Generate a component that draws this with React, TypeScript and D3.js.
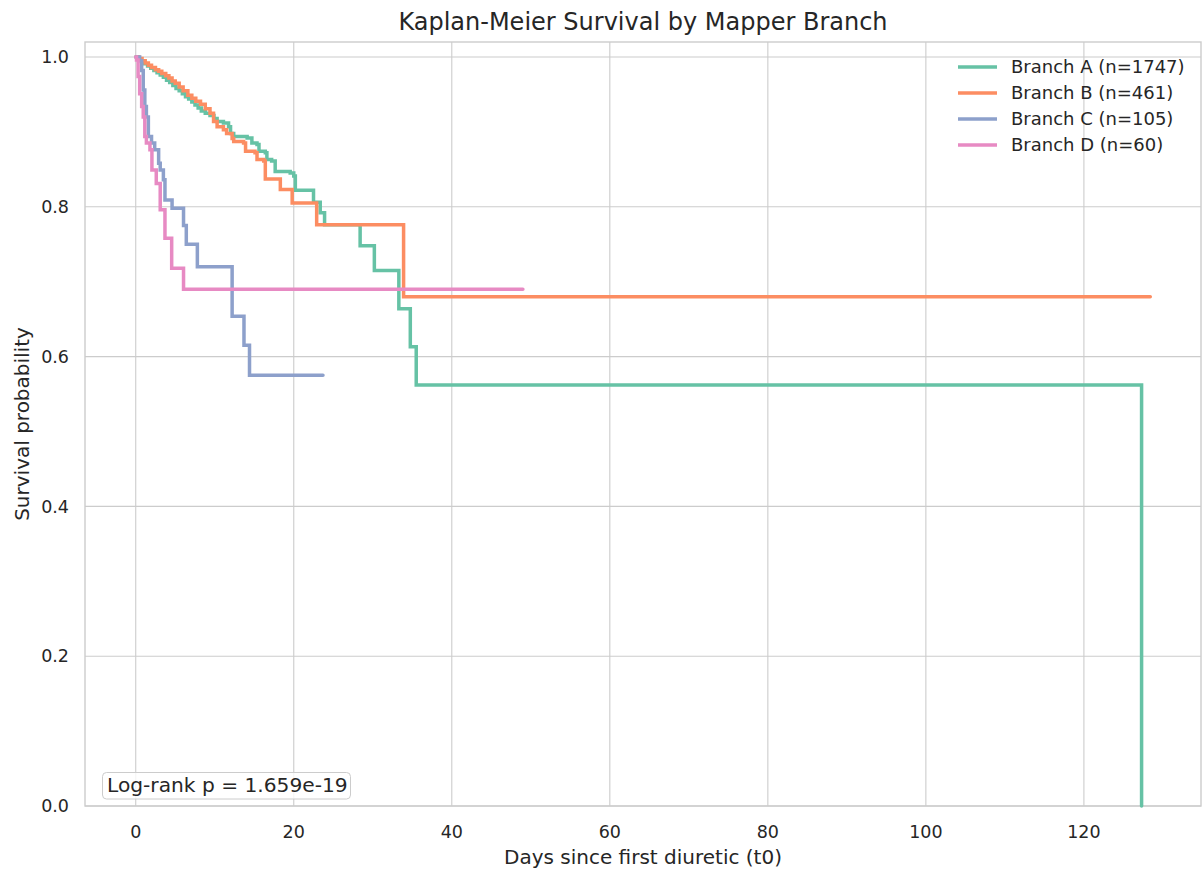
import React from "react";
import * as d3 from "d3";

type Pt = [number, number];

const branchA: Pt[] = [
  [0, 1.0], [0.3, 0.997], [0.7, 0.994], [1.1, 0.991], [1.5, 0.988], [1.9, 0.985], [2.3, 0.982],
  [2.7, 0.979], [3.1, 0.976], [3.5, 0.973], [3.9, 0.969], [4.3, 0.966], [4.7, 0.962], [5.1, 0.958],
  [5.5, 0.955], [5.9, 0.951], [6.3, 0.947], [6.7, 0.944], [7.1, 0.94], [7.5, 0.936], [7.9, 0.932],
  [8.3, 0.928], [8.8, 0.925], [9.4, 0.922], [9.9, 0.918], [10.3, 0.914], [11.1, 0.912], [11.75, 0.907],
  [12.0, 0.898], [12.4, 0.894], [14.1, 0.892], [14.7, 0.885], [15.35, 0.883], [15.6, 0.874],
  [16.4, 0.872], [16.6, 0.863], [17.2, 0.861], [17.65, 0.847], [19.55, 0.845], [20.0, 0.841],
  [20.2, 0.822], [22.5, 0.806], [23.35, 0.792], [23.9, 0.776], [28.4, 0.748], [30.2, 0.715],
  [33.3, 0.664], [34.75, 0.613], [35.5, 0.562], [127.3, 0.0],
];

const branchB: Pt[] = [
  [0, 1.0], [0.4, 0.998], [0.8, 0.995], [1.2, 0.992], [1.6, 0.989], [2.0, 0.986], [2.5, 0.983],
  [2.9, 0.981], [3.3, 0.978], [3.8, 0.975], [4.2, 0.972], [4.6, 0.968], [5.0, 0.965], [5.5, 0.96],
  [6.0, 0.955], [6.6, 0.949], [7.1, 0.945], [7.6, 0.941], [8.2, 0.937], [8.8, 0.931], [9.4, 0.925],
  [9.85, 0.914], [10.3, 0.907], [11.1, 0.903], [11.5, 0.898], [12.2, 0.891], [12.4, 0.887],
  [13.65, 0.885], [13.9, 0.874], [15.1, 0.872], [15.35, 0.863], [16.2, 0.861], [16.4, 0.837],
  [18.3, 0.823], [19.8, 0.805], [22.9, 0.776], [33.9, 0.68], [128.4, 0.68],
];

const branchC: Pt[] = [
  [0, 1.0], [0.5, 0.995], [0.75, 0.982], [0.95, 0.956], [1.15, 0.934], [1.35, 0.92], [1.6, 0.894],
  [2.0, 0.885], [2.4, 0.876], [2.9, 0.858], [3.1, 0.849], [3.5, 0.836], [3.7, 0.809], [4.6, 0.798],
  [6.05, 0.775], [6.4, 0.75], [7.8, 0.72], [12.2, 0.654], [13.7, 0.615], [14.4, 0.575], [23.7, 0.575],
];

const branchD: Pt[] = [
  [0, 1.0], [0.1, 0.996], [0.3, 0.974], [0.5, 0.951], [0.75, 0.934], [0.95, 0.92], [1.15, 0.894],
  [1.35, 0.885], [1.8, 0.876], [2.05, 0.849], [2.6, 0.831], [3.1, 0.796], [3.7, 0.758], [4.55, 0.718],
  [6.05, 0.69], [49.0, 0.69],
];

const seriesNames = ["Branch A (n=1747)", "Branch B (n=461)", "Branch C (n=105)", "Branch D (n=60)"];
const seriesData = [branchA, branchB, branchC, branchD];
const seriesColors = ["#66c2a5", "#fc8d62", "#8da0cb", "#e78ac3"];

const xTicks = [0, 20, 40, 60, 80, 100, 120];
const yTicks = [0, 0.2, 0.4, 0.6, 0.8, 1.0];

const titleText = "Kaplan-Meier Survival by Mapper Branch";
const xLabel = "Days since first diuretic (t0)";
const yLabel = "Survival probability";
const pText = "Log-rank p = 1.659e-19";

export default function App() {
  const W = 1203, H = 872;
  const left = 85, right = 1201, top = 42, bottom = 806;
  const x = d3.scaleLinear().domain([-6.42, 134.82]).range([left, right]);
  const y = d3.scaleLinear().domain([0, 1.02]).range([bottom, top]);
  const line = d3.line<Pt>().x(d => x(d[0])).y(d => y(d[1])).curve(d3.curveStepAfter);
  const font = "'DejaVu Sans', sans-serif";
  const txt = "#262626";
  const grid = "#cccccc";

  return (
    <div style={{ position: "absolute", left: 0, top: 0 }}>
      <svg width={W} height={H} style={{ display: "block", background: "#fff" }} fontFamily={font}>
        <rect x={0} y={0} width={W} height={H} fill="#fff" />
        {xTicks.map(t => (
          <line key={"gx" + t} x1={x(t)} x2={x(t)} y1={top} y2={bottom} stroke={grid} strokeWidth={1.1} />
        ))}
        {yTicks.map(t => (
          <line key={"gy" + t} x1={left} x2={right} y1={y(t)} y2={y(t)} stroke={grid} strokeWidth={1.1} />
        ))}
        <rect x={left} y={top} width={right - left} height={bottom - top} fill="none" stroke={grid} strokeWidth={1.4} />
        {seriesData.map((d, i) => (
          <path key={"s" + i} d={line(d) || ""} fill="none" stroke={seriesColors[i]} strokeWidth={3.5} strokeLinecap="round" strokeLinejoin="miter" />
        ))}
        {xTicks.map(t => (
          <text key={"tx" + t} x={x(t)} y={838} textAnchor="middle" fontSize={17.5} fill={txt}>{t}</text>
        ))}
        {yTicks.map(t => (
          <text key={"ty" + t} x={69} y={y(t)} dy="0.36em" textAnchor="end" fontSize={17.5} fill={txt}>{t.toFixed(1)}</text>
        ))}
        <text x={(left + right) / 2} y={30} textAnchor="middle" fontSize={24} fill={txt}>{titleText}</text>
        <text x={(left + right) / 2} y={864} textAnchor="middle" fontSize={20} fill={txt}>{xLabel}</text>
        <text transform={`translate(29,${(top + bottom) / 2}) rotate(-90)`} textAnchor="middle" fontSize={20} fill={txt}>{yLabel}</text>
        {seriesNames.map((n, i) => (
          <g key={"l" + i}>
            <line x1={958} x2={997} y1={67 + i * 26} y2={67 + i * 26} stroke={seriesColors[i]} strokeWidth={3.5} />
            <text x={1011} y={67 + i * 26} dy="0.36em" fontSize={18} fill={txt}>{n}</text>
          </g>
        ))}
        <rect x={102.5} y={772.5} width={248} height={26.5} rx={4} fill="#fff" fillOpacity={0.8} stroke="#cccccc" strokeWidth={1} />
        <text x={107} y={792} fontSize={20.2} fill={txt}>{pText}</text>
      </svg>
    </div>
  );
}
